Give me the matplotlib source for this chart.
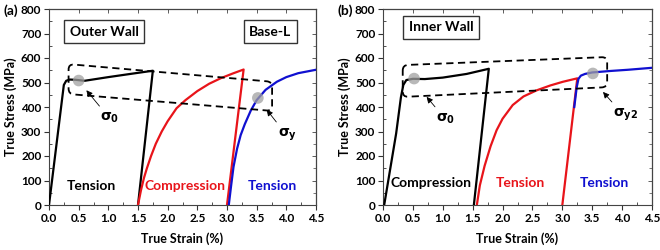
import matplotlib
matplotlib.use("Agg")
import matplotlib.pyplot as plt
from matplotlib.path import Path
from matplotlib.patches import PathPatch
import numpy as np

plt.rcParams['font.family'] = ['Lato', 'DejaVu Sans']
plt.rcParams['font.weight'] = 'bold'
plt.rcParams['mathtext.fontset'] = 'dejavusans'

# ---------------- data ----------------
# Panel (a) Outer Wall / Base-L
a_black_x = [0.0, 0.25, 0.29, 0.35, 0.45, 0.6, 1.0, 1.4, 1.75, 1.5]
a_black_y = [0, 490, 507, 512, 511, 507, 522, 536, 548, 0]
a_red_x = [1.5, 1.55, 1.6, 1.65, 1.72, 1.8, 1.9, 2.0, 2.15, 2.3, 2.5, 2.7, 2.9, 3.1, 3.28, 3.0]
a_red_y = [0, 60, 110, 150, 200, 250, 300, 342, 395, 428, 465, 495, 518, 537, 553, 0]
a_blue_x = [3.03, 3.07, 3.11, 3.17, 3.23, 3.3, 3.4, 3.5, 3.65, 3.84, 4.0, 4.2, 4.5]
a_blue_y = [0, 80, 156, 230, 285, 330, 385, 428, 470, 503, 522, 538, 552]
a_box = [(0.33, 575), (3.76, 503), (3.76, 384), (0.33, 453)]
a_pts_x = [0.5, 3.52]
a_pts_y = [508, 437]

# Panel (b) Inner Wall
b_black_x = [0.02, 0.22, 0.3, 0.34, 0.39, 0.5, 0.7, 1.0, 1.4, 1.77, 1.52]
b_black_y = [0, 292, 440, 490, 510, 515, 514, 520, 535, 556, 0]
b_red_x = [1.57, 1.62, 1.7, 1.8, 1.9, 2.0, 2.17, 2.35, 2.57, 2.8, 3.01, 3.25, 3.0]
b_red_y = [0, 80, 160, 240, 305, 352, 408, 443, 468, 488, 503, 517, 0]
b_blue_x = [3.2, 3.24, 3.27, 3.31, 3.38, 3.5, 3.8, 4.1, 4.5]
b_blue_y = [400, 480, 515, 528, 535, 541, 547, 552, 560]
b_box = [(0.33, 571), (3.75, 604), (3.75, 481), (0.33, 441)]
b_pts_x = [0.52, 3.51]
b_pts_y = [516, 537]

xticks = [0.0, 0.5, 1.0, 1.5, 2.0, 2.5, 3.0, 3.5, 4.0, 4.5]
yticks = [0, 100, 200, 300, 400, 500, 600, 700, 800]

fig = plt.figure(figsize=(6.6, 2.5), dpi=100)
ax_a = fig.add_axes([49/660, 45/250, 267/660, 196/250])
ax_b = fig.add_axes([383/660, 45/250, 269/660, 196/250])


def rounded_box(ax, corners, rx=0.09, ry=22):
    pts = [np.array(c, dtype=float) for c in corners]
    verts, codes = [], []
    n = len(pts)
    for i in range(n):
        p = pts[i]
        prev = pts[i - 1]
        nxt = pts[(i + 1) % n]
        def off(q):
            d = q - p
            if abs(d[0]) > 0.5:
                t = rx / abs(d[0])
            else:
                t = ry / abs(d[1])
            return p + t * d
        a = off(prev)
        b = off(nxt)
        verts.append(a); codes.append(Path.MOVETO if i == 0 else Path.LINETO)
        verts.append(p); codes.append(Path.CURVE3)
        verts.append(b); codes.append(Path.CURVE3)
    verts.append(verts[0]); codes.append(Path.LINETO)
    patch = PathPatch(Path(verts, codes), fill=False, ls=(0, (4, 2.5)),
                      lw=1.3, color='black', zorder=4)
    ax.add_patch(patch)


def style(ax):
    ax.set_xlim(0, 4.5)
    ax.set_ylim(0, 800)
    ax.set_xticks(xticks)
    ax.set_xticklabels(['%.1f' % v for v in xticks])
    ax.set_yticks(yticks)
    ax.set_xticks(np.arange(0.25, 4.5, 0.5), minor=True)
    ax.set_yticks(np.arange(50, 800, 100), minor=True)
    ax.tick_params(which='major', direction='out', length=3.5, width=0.8,
                   labelsize=8.5, pad=2, color='#333333')
    ax.tick_params(which='minor', direction='in', length=2, width=0.6, color='#333333')
    for s in ax.spines.values():
        s.set_color('#444444')
        s.set_linewidth(0.8)
    for lab in ax.get_xticklabels() + ax.get_yticklabels():
        lab.set_fontweight('bold')
    top = ax.secondary_xaxis('top')
    top.set_xticks(xticks)
    top.set_xticklabels([])
    top.tick_params(direction='in', length=3, width=0.6, color='#444444')
    right = ax.secondary_yaxis('right')
    right.set_yticks(yticks)
    right.set_yticklabels([])
    right.set_yticks(np.arange(50, 800, 100), minor=True)
    right.tick_params(which='major', direction='in', length=3, width=0.6, color='#444444')
    right.tick_params(which='minor', direction='in', length=2, width=0.5, color='#444444')
    ax.set_xlabel('True Strain (%)', fontsize=9, fontweight='bold', labelpad=6)
    ax.set_ylabel('True Stress (MPa)', fontsize=9, fontweight='bold', labelpad=3)


lw = 1.6
fs_in = 10
arrow = dict(arrowstyle='-|>', lw=0.6, color='black', mutation_scale=9)
bb = dict(boxstyle='square,pad=0.4', fc='white', ec='#333333', lw=1.0)

# ---- panel (a)
ax = ax_a
style(ax)
ax.plot(a_black_x, a_black_y, color='black', lw=lw, zorder=3)
ax.plot(a_red_x, a_red_y, color='#e8141a', lw=lw, zorder=3)
ax.plot(a_blue_x, a_blue_y, color='#1010d0', lw=lw, zorder=3)
ax.scatter(a_pts_x, a_pts_y, s=70, color='#a0a0a0', alpha=0.75, zorder=5, edgecolors='none')
rounded_box(ax, a_box)
ax.annotate('', xy=(0.6, 477), xytext=(0.88, 395), arrowprops=arrow, zorder=6)
ax.text(1.03, 355, r'$\mathbf{\sigma_0}$', fontsize=10, ha='center', va='center')
ax.annotate('', xy=(3.64, 398), xytext=(3.86, 330), arrowprops=arrow, zorder=6)
ax.text(4.02, 285, r'$\mathbf{\sigma_y}$', fontsize=10, ha='center', va='center')
ax.text(0.72, 78, 'Tension', fontsize=fs_in, fontweight='bold', color='black', ha='center', va='center')
ax.text(2.29, 78, 'Compression', fontsize=fs_in, fontweight='bold', color='#e8141a', ha='center', va='center')
ax.text(3.76, 78, 'Tension', fontsize=fs_in, fontweight='bold', color='#1010d0', ha='center', va='center')
ax.text(0.93, 707, 'Outer Wall', fontsize=fs_in, fontweight='bold', ha='center', va='center', bbox=bb)
ax.text(3.73, 707, 'Base-L', fontsize=fs_in, fontweight='bold', ha='center', va='center', bbox=bb)
fig.text(3/660, 1 - 11/250, '(a)', fontsize=10, fontweight='bold', ha='left', va='center')

# ---- panel (b)
ax = ax_b
style(ax)
ax.plot(b_black_x, b_black_y, color='black', lw=lw, zorder=3)
ax.plot(b_red_x, b_red_y, color='#e8141a', lw=lw, zorder=3)
ax.plot(b_blue_x, b_blue_y, color='#1010d0', lw=lw, zorder=3)
ax.scatter(b_pts_x, b_pts_y, s=70, color='#a0a0a0', alpha=0.75, zorder=5, edgecolors='none')
rounded_box(ax, b_box)
ax.annotate('', xy=(0.7, 450), xytext=(0.9, 392), arrowprops=arrow, zorder=6)
ax.text(1.05, 352, r'$\mathbf{\sigma_0}$', fontsize=10, ha='center', va='center')
ax.annotate('', xy=(3.65, 470), xytext=(3.86, 412), arrowprops=arrow, zorder=6)
ax.text(4.05, 368, r'$\mathbf{\sigma_{y2}}$', fontsize=10, ha='center', va='center')
ax.text(0.81, 88, 'Compression', fontsize=fs_in, fontweight='bold', color='black', ha='center', va='center')
ax.text(2.29, 88, 'Tension', fontsize=fs_in, fontweight='bold', color='#e8141a', ha='center', va='center')
ax.text(3.71, 88, 'Tension', fontsize=fs_in, fontweight='bold', color='#1010d0', ha='center', va='center')
ax.text(0.97, 725, 'Inner Wall', fontsize=fs_in, fontweight='bold', ha='center', va='center', bbox=bb)
fig.text(337/660, 1 - 11/250, '(b)', fontsize=10, fontweight='bold', ha='left', va='center')

fig.savefig('out.png', dpi=100)
